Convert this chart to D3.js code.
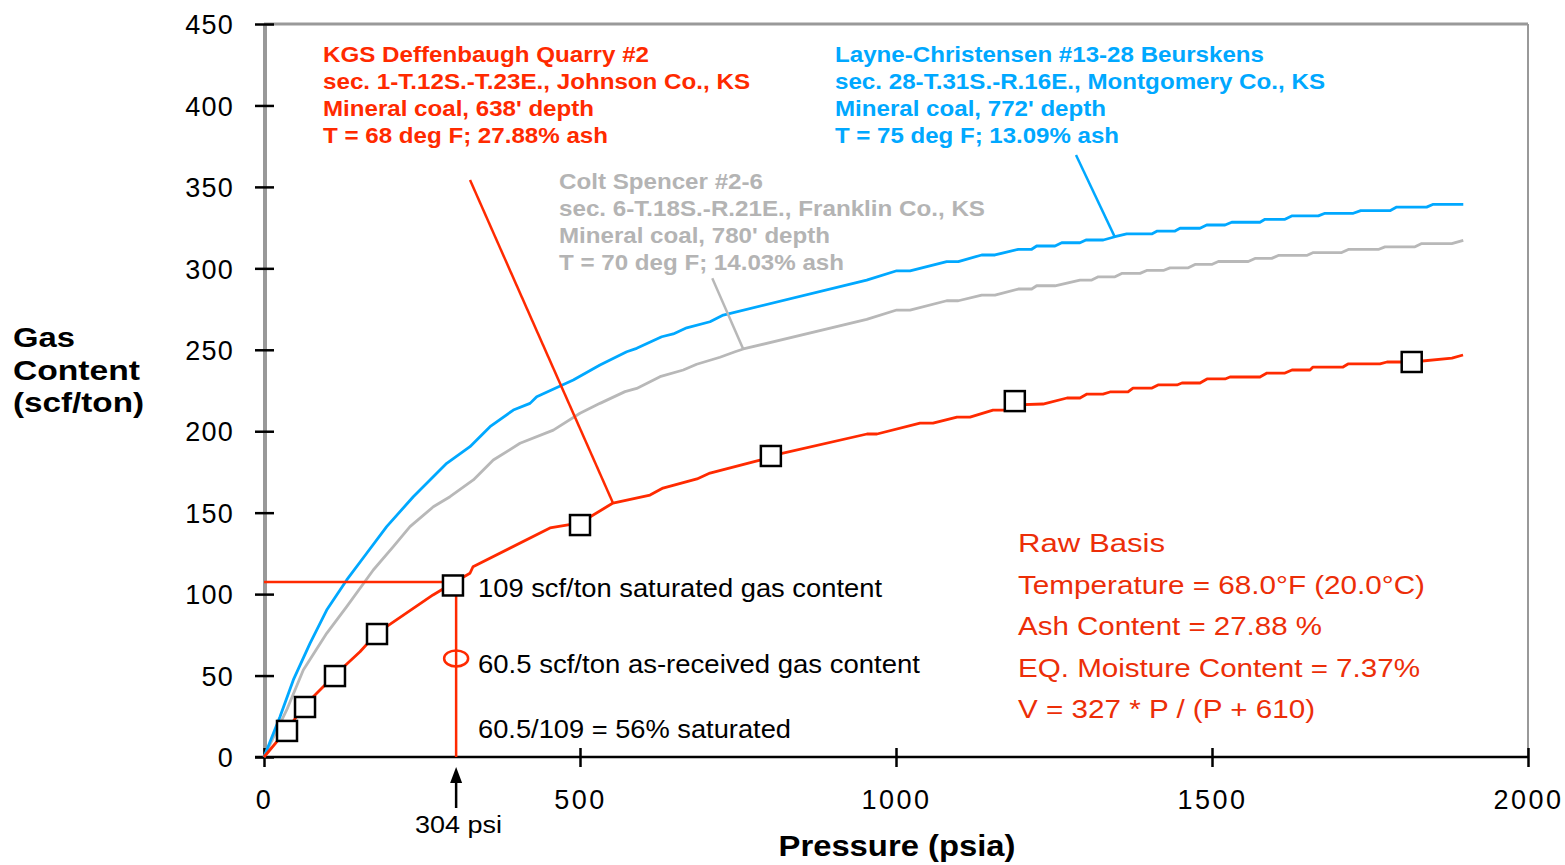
<!DOCTYPE html>
<html><head><meta charset="utf-8">
<script src="https://cdn.jsdelivr.net/npm/d3@7"></script>
<style>body{margin:0;background:#fff}svg{display:block}</style>
</head><body>
<svg id="c" width="1565" height="865"></svg>
<script>
// ---------- data ----------
const xTicks = [0, 500, 1000, 1500, 2000];
const yTicks = [0, 50, 100, 150, 200, 250, 300, 350, 400, 450];

// KGS Deffenbaugh Quarry #2 (red isotherm)
const deffP = [0,35.9,64.9,112.3,151.9,178.3,267.4,289.1,325.9,330.7,452.5,500,552.2,610.8,631.3,685.1,705.7,784.8,802.2,954.1,969.9,1038,1058.5,1096.5,1117.1,1153.5,1175.6,1188.3,1232.6,1270.6,1291.1,1302.2,1327.5,1338.6,1367.1,1375,1405.1,1414.6,1444.6,1452.5,1481,1492.1,1520.6,1528.5,1575.9,1587,1615.5,1626.6,1655.1,1659.8,1707.3,1715.2,1765.8,1776.9,1816.5,1879.7,1897.2];
const deffV = [0,16.6,31.9,50.3,64.6,75.9,99.5,104.5,112.8,116.8,140.6,143.7,155.9,160.8,165.1,170.7,174.3,182.3,184.8,198.3,198.3,205.0,205.0,208.7,208.7,213.0,213.0,216.1,216.7,220.4,220.4,222.8,222.8,224.1,224.1,226.5,226.5,228.4,228.4,229.6,229.6,232.1,232.1,233.3,233.3,235.7,235.7,237.6,237.6,239.4,239.4,241.3,241.3,242.5,242.5,244.9,246.8];
// measured points (squares)
const measP = [36.4, 64.9, 112.3, 178.8, 299, 500, 802, 1188, 1816];
const measV = [16.0, 30.7, 49.7, 75.5, 105.3, 142.4, 184.8, 218.5, 242.5];

// Layne-Christensen #13-28 Beurskens (blue)
const layneP = [0,25.3,46.4,72.8,99.2,130.9,162.5,194.1,236.2,289.1,325.9,357.6,394.5,420.9,431.5,489.4,531.6,573.9,589.7,629.3,647.6,668.8,705.7,726.7,953.6,1001.1,1022.2,1080.2,1098.6,1135.6,1156.6,1193.5,1214.7,1222.6,1251.6,1262.2,1291.1,1300.6,1328,1346.5,1365,1404.6,1413.4,1441.5,1449.4,1481,1491.6,1520.6,1531.2,1575.9,1583.9,1615.5,1626.1,1668.2,1678.8,1723.6,1735.3,1781.6,1792.2,1839.6,1850.1,1897.6];
const layneV = [0,24.7,47.3,69.8,90.2,108.7,125.1,141.4,159.8,180.3,190.5,202.8,213.0,217.1,221.2,231.4,240.6,248.8,250.9,258.0,259.7,263.5,267.2,271.3,292.8,298.5,298.5,304.1,304.1,308.2,308.2,311.7,311.7,313.7,313.7,315.7,315.7,317.4,317.4,319.4,321.1,321.1,322.9,322.9,324.6,324.6,326.6,326.6,328.3,328.3,330.1,330.1,332.2,332.2,333.8,333.8,335.4,335.4,337.6,337.6,339.3,339.3];

// Colt Spencer #2-6 (gray)
const coltP = [0,35.9,62.2,99.2,130.9,172.9,204.6,231,267.9,294.3,331.2,362.8,405.1,457.8,500,531.6,571.2,589.7,626.6,663.4,684.6,721.5,745.3,758.4,953.6,1001.1,1022.2,1080.2,1098.6,1135.6,1156.6,1193.5,1214.7,1222.6,1251.6,1291.1,1309.7,1320.1,1346.5,1357.1,1386.1,1396.7,1423,1433.5,1462.5,1473.1,1499.5,1510,1557.4,1568,1594.5,1604.9,1649.8,1660.3,1705.2,1715.7,1763.1,1773.7,1821.2,1831.8,1879.3,1897.6];
const coltV = [0,28.9,53.4,75.9,92.3,114.8,129.1,141.4,153.6,159.8,170.1,182.3,192.6,200.7,211.0,217.1,224.3,226.3,233.5,237.6,241.1,245.4,248.8,250.5,268.7,274.4,274.4,280.1,280.1,283.6,283.6,287.3,287.3,289.3,289.3,292.8,292.8,294.8,294.8,296.9,296.9,298.7,298.7,300.3,300.3,302.4,302.4,304.2,304.2,306.1,306.1,307.9,307.9,309.7,309.7,311.6,311.6,313.2,313.2,315.2,315.2,317.2];

// annotation values
const satP = 304, satV = 107.5, asRecV = 60.5;
const redLeader = [[326, 354.2], [552.2, 155.9]];
const grayLeader = [[709.3, 293.9], [758.4, 250.3]];
const blueLeader = [[1284.8, 369.6], [1346.5, 319.0]];

const redTitle = ["KGS Deffenbaugh Quarry #2", "sec. 1-T.12S.-T.23E., Johnson Co., KS", "Mineral coal, 638' depth", "T = 68 deg F; 27.88% ash"];
const blueTitle = ["Layne-Christensen #13-28 Beurskens", "sec. 28-T.31S.-R.16E., Montgomery Co., KS", "Mineral coal, 772' depth", "T = 75 deg F; 13.09% ash"];
const grayTitle = ["Colt Spencer #2-6", "sec. 6-T.18S.-R.21E., Franklin Co., KS", "Mineral coal, 780' depth", "T = 70 deg F; 14.03% ash"];
const rawBasis = ["Raw Basis", "Temperature = 68.0\u00b0F (20.0\u00b0C)", "Ash Content = 27.88 %", "EQ. Moisture Content = 7.37%", "V = 327 * P / (P + 610)"];
const annot = ["109 scf/ton saturated gas content", "60.5 scf/ton as-received gas content", "60.5/109 = 56% saturated"];

// ---------- drawing ----------
const RED = "#ff2a00", BLUE = "#00a8ff", GRAYT = "#b4b4b4", GRAYL = "#b8b8b8", RED2 = "#ec2e08";
const FONT = "'Liberation Sans', Arial, sans-serif";
const svg = d3.select("#c");
const x = d3.scaleLinear().domain([0, 2000]).range([264, 1528]);
const y = d3.scaleLinear().domain([0, 450]).range([757, 24]);

function txt(g, s, px, py, o) {
  const t = g.append("text").attr("x", px).attr("y", py).text(s)
    .attr("font-family", FONT).attr("font-size", o.size).attr("fill", o.fill || "#000")
    .attr("font-weight", o.weight || "normal");
  if (o.anchor) t.attr("text-anchor", o.anchor);
  if (o.len) t.attr("textLength", o.len).attr("lengthAdjust", "spacingAndGlyphs");
  return t;
}

// frame: top & right border
svg.append("line").attr("x1", x(0)).attr("x2", x(2000)).attr("y1", y(450)).attr("y2", y(450))
  .attr("stroke", "#999").attr("stroke-width", 3);
svg.append("line").attr("x1", x(2000)).attr("x2", x(2000)).attr("y1", y(450)).attr("y2", y(0))
  .attr("stroke", "#999").attr("stroke-width", 2);
// y axis gray bar
svg.append("line").attr("x1", x(0) + 1).attr("x2", x(0) + 1).attr("y1", y(450)).attr("y2", y(0))
  .attr("stroke", "#999").attr("stroke-width", 4);

// y axis ticks & labels
const yAx = svg.append("g").attr("transform", `translate(${x(0)},0)`)
  .call(d3.axisLeft(y).tickValues(yTicks).tickSize(10).tickFormat(d3.format("d")));
yAx.select(".domain").remove();
yAx.selectAll(".tick line").attr("x1", -9).attr("x2", 10).attr("stroke", "#000").attr("stroke-width", 2.5);
yAx.selectAll(".tick text").attr("x", -30).attr("dy", "0.36em")
  .attr("font-family", FONT).attr("font-size", 27).attr("fill", "#000").attr("letter-spacing", 1.2);

// x axis
const xAx = svg.append("g").attr("transform", `translate(0,${y(0)})`)
  .call(d3.axisBottom(x).tickValues(xTicks).tickSize(10).tickFormat(d3.format("d")));
xAx.select(".domain").attr("d", `M${x(0) - 9},0H${x(2000)}`).attr("stroke", "#000").attr("stroke-width", 2.5);
xAx.selectAll(".tick line").attr("y1", -9).attr("y2", 10).attr("stroke", "#000").attr("stroke-width", 2.5);
xAx.selectAll(".tick text").attr("y", 52).attr("dy", 0)
  .attr("font-family", FONT).attr("font-size", 27).attr("fill", "#000").attr("letter-spacing", 2.5);

// axis titles
txt(svg, "Pressure (psia)", 897, 856, {size: 29, weight: "bold", anchor: "middle", len: 237});
txt(svg, "Gas", 13, 347, {size: 28, weight: "bold", len: 62});
txt(svg, "Content", 13, 380, {size: 28, weight: "bold", len: 127});
txt(svg, "(scf/ton)", 13, 412, {size: 27, weight: "bold", len: 131});

// curves
const line = d3.line().x(d => x(d[0])).y(d => y(d[1]));
function series(P, V) { return P.map((p, i) => [p, V[i]]); }
svg.append("path").datum(series(coltP, coltV)).attr("d", line)
  .attr("fill", "none").attr("stroke", GRAYL).attr("stroke-width", 2.8).attr("stroke-linejoin", "round");
svg.append("path").datum(series(layneP, layneV)).attr("d", line)
  .attr("fill", "none").attr("stroke", BLUE).attr("stroke-width", 2.8).attr("stroke-linejoin", "round");

// saturation annotation lines
svg.append("path").datum([[0, satV], [satP, satV], [satP, 0]]).attr("d", line)
  .attr("fill", "none").attr("stroke", RED).attr("stroke-width", 2.5);

svg.append("path").datum(series(deffP, deffV)).attr("d", line)
  .attr("fill", "none").attr("stroke", RED).attr("stroke-width", 2.8).attr("stroke-linejoin", "round");

// leader lines
[[redLeader, RED], [grayLeader, GRAYL], [blueLeader, BLUE]].forEach(([pts, c]) => {
  svg.append("path").datum(pts).attr("d", line).attr("fill", "none").attr("stroke", c).attr("stroke-width", 2.5);
});

// measured squares
svg.append("g").selectAll("rect").data(series(measP, measV)).join("rect")
  .attr("x", d => x(d[0]) - 10).attr("y", d => y(d[1]) - 10).attr("width", 20).attr("height", 20)
  .attr("fill", "#fff").attr("stroke", "#000").attr("stroke-width", 2.5);

// as-received ellipse
svg.append("ellipse").attr("cx", x(satP)).attr("cy", y(asRecV)).attr("rx", 12).attr("ry", 8)
  .attr("fill", "none").attr("stroke", RED).attr("stroke-width", 2.5);

// arrow at 304 psi
svg.append("line").attr("x1", x(satP)).attr("x2", x(satP)).attr("y1", 808).attr("y2", 780)
  .attr("stroke", "#000").attr("stroke-width", 2.5);
svg.append("path").attr("d", `M${x(satP)},767L${x(satP) - 6},783L${x(satP) + 6},783Z`).attr("fill", "#000");
txt(svg, "304 psi", 415, 833, {size: 23, len: 87});

// annotation texts
txt(svg, annot[0], 478, 597, {size: 25, len: 404});
txt(svg, annot[1], 478, 673, {size: 25, len: 442});
txt(svg, annot[2], 478, 738, {size: 25, len: 313});

// title blocks
const redLens = [326, 427, 271, 285], blueLens = [429, 490, 271, 284], grayLens = [204, 426, 271, 285];
redTitle.forEach((s, i) => txt(svg, s, 323, 62 + 27 * i, {size: 22, weight: "bold", fill: RED, len: redLens[i]}));
blueTitle.forEach((s, i) => txt(svg, s, 835, 62 + 27 * i, {size: 22, weight: "bold", fill: BLUE, len: blueLens[i]}));
grayTitle.forEach((s, i) => txt(svg, s, 559, 189 + 27 * i, {size: 22, weight: "bold", fill: GRAYT, len: grayLens[i]}));

// raw basis block
const rawLens = [147, 407, 304, 402, 297];
rawBasis.forEach((s, i) => txt(svg, s, 1018, 552 + 41.6 * i, {size: 25, fill: RED2, len: rawLens[i]}));
</script>
</body></html>
